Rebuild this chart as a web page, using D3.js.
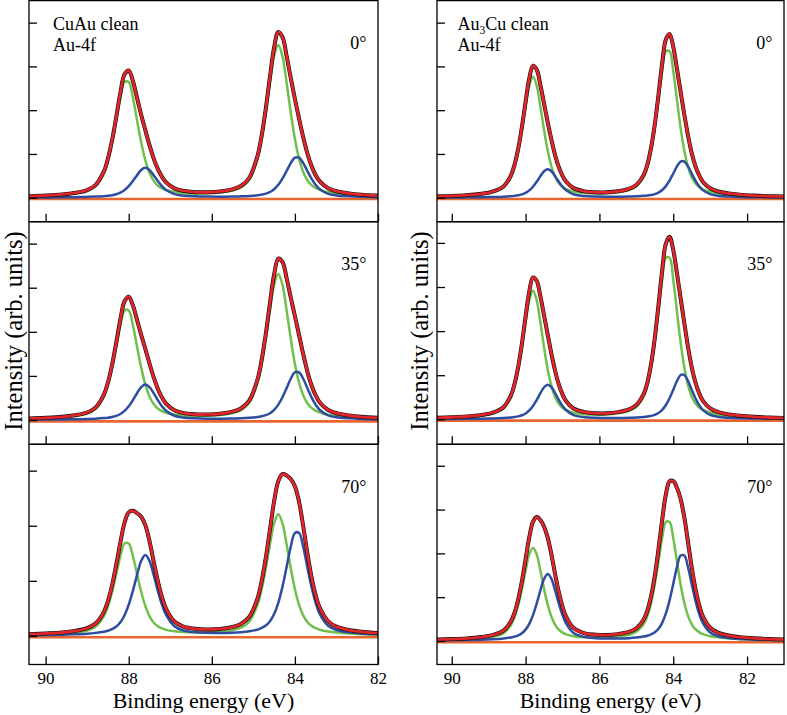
<!DOCTYPE html>
<html><head><meta charset="utf-8">
<script src="https://cdn.jsdelivr.net/npm/d3@7"></script>
<style>
body{margin:0;background:#fff}
svg{display:block}
text{font-family:"Times New Roman","Liberation Serif","DejaVu Serif",serif;fill:#000}
</style>
</head><body>
<svg id="chart" width="787" height="715" font-family="'Times New Roman','Liberation Serif',serif"></svg>
<script>
// ---------------- DATA (intensity in arb. units, 1 unit = one y tick) ----------------
const energyCuAu = [90.4,90.0,89.6,89.3,89.0,88.8,88.6,88.5,88.4,88.3,88.2,88.1,88.0,87.9,87.8,87.7,87.6,87.5,87.4,87.3,87.2,87.1,86.9,86.7,86.4,86.1,85.8,85.5,85.3,85.1,84.9,84.8,84.7,84.6,84.5,84.4,84.3,84.2,84.1,84.0,83.9,83.8,83.7,83.6,83.5,83.4,83.2,83.0,82.7,82.4,82.0];
const energyAu3Cu = [90.4,90.0,89.6,89.2,88.9,88.6,88.4,88.3,88.2,88.1,88.0,87.9,87.8,87.7,87.6,87.5,87.4,87.3,87.2,87.1,87.0,86.9,86.7,86.4,86.1,85.8,85.5,85.2,85.0,84.8,84.7,84.6,84.5,84.4,84.3,84.2,84.1,84.0,83.9,83.8,83.7,83.6,83.5,83.4,83.3,83.2,83.0,82.8,82.5,82.2,81.8,81.4,81.0];

// CuAu clean, Au-4f : green (bulk) and blue (second) components
const cuau0Green = [.031,.043,.065,.095,.156,.264,.560,.850,1.258,1.765,2.286,2.643,2.644,2.288,1.769,1.263,.857,.569,.385,.277,.214,.173,.132,.111,.096,.100,.119,.165,.235,.410,.899,1.347,1.948,2.632,3.238,3.491,3.236,2.630,1.944,1.342,.893,.589,.401,.290,.223,.181,.128,.096,.068,.050,.036];
const cuau0Blue = [.006,.008,.010,.014,.020,.026,.036,.045,.058,.080,.116,.176,.264,.381,.515,.634,.684,.634,.516,.383,.265,.178,.083,.049,.032,.026,.025,.028,.033,.041,.056,.071,.093,.131,.195,.295,.436,.611,.792,.915,.915,.791,.611,.435,.293,.193,.090,.053,.032,.021,.014];
const cuau35Green = [.029,.041,.061,.090,.147,.249,.527,.799,1.183,1.660,2.149,2.485,2.486,2.152,1.664,1.188,.806,.535,.363,.261,.201,.163,.124,.104,.091,.095,.112,.156,.223,.389,.852,1.277,1.847,2.497,3.070,3.310,3.069,2.494,1.844,1.272,.846,.559,.380,.274,.211,.171,.121,.091,.064,.047,.035];
const cuau35Blue = [.007,.009,.012,.017,.023,.031,.043,.052,.068,.094,.137,.207,.310,.449,.606,.746,.805,.746,.608,.450,.312,.209,.097,.057,.038,.031,.030,.033,.039,.049,.066,.084,.110,.154,.230,.349,.516,.723,.936,1.083,1.082,.936,.722,.514,.347,.228,.107,.063,.038,.025,.017];
const cuau70Green = [.020,.028,.041,.060,.099,.168,.355,.539,.798,1.120,1.450,1.677,1.677,1.451,1.122,.802,.544,.361,.244,.176,.136,.110,.084,.070,.061,.063,.075,.104,.149,.259,.568,.851,1.232,1.664,2.047,2.207,2.046,1.663,1.229,.848,.564,.373,.254,.183,.141,.114,.081,.061,.043,.032,.023];
const cuau70Blue = [.012,.017,.022,.030,.042,.056,.078,.095,.124,.171,.250,.377,.566,.819,1.106,1.361,1.468,1.362,1.108,.821,.569,.381,.177,.104,.068,.056,.053,.058,.068,.085,.115,.145,.190,.267,.398,.602,.891,1.250,1.618,1.870,1.870,1.617,1.248,.889,.599,.394,.185,.108,.065,.044,.029];

// Au3Cu clean, Au-4f
const au3cu0Green = [.027,.036,.050,.079,.121,.232,.470,.709,1.065,1.541,2.083,2.562,2.764,2.564,2.086,1.546,1.071,.717,.479,.332,.245,.195,.141,.107,.097,.100,.123,.176,.260,.479,.712,1.079,1.595,2.237,2.895,3.347,3.346,2.893,2.234,1.590,1.073,.706,.470,.331,.249,.194,.136,.101,.070,.052,.037,.028,.022];
const au3cu0Blue = [.005,.006,.009,.012,.017,.025,.035,.043,.055,.076,.111,.168,.252,.364,.493,.606,.653,.606,.493,.366,.253,.170,.079,.039,.028,.024,.024,.028,.033,.043,.051,.064,.084,.118,.176,.266,.394,.553,.715,.827,.827,.715,.552,.393,.265,.174,.082,.048,.029,.019,.013,.009,.007];
const au3cu35Green = [.028,.038,.053,.084,.128,.245,.496,.749,1.123,1.625,2.197,2.702,2.915,2.704,2.201,1.631,1.130,.757,.506,.351,.260,.206,.149,.115,.104,.108,.134,.192,.284,.523,.779,1.180,1.744,2.447,3.167,3.662,3.661,3.165,2.443,1.740,1.174,.772,.514,.362,.272,.212,.148,.111,.076,.057,.041,.030,.024];
const au3cu35Blue = [.006,.008,.010,.014,.020,.030,.042,.051,.066,.091,.133,.201,.302,.437,.591,.727,.784,.727,.592,.439,.304,.204,.094,.047,.033,.028,.029,.034,.041,.053,.062,.078,.102,.143,.214,.323,.478,.671,.868,1.004,1.004,.868,.670,.477,.322,.212,.099,.058,.035,.024,.016,.011,.008];
const au3cu70Green = [.021,.028,.039,.061,.094,.179,.362,.547,.821,1.188,1.606,1.976,2.131,1.977,1.609,1.192,.826,.554,.370,.257,.190,.151,.110,.084,.077,.080,.099,.142,.210,.388,.578,.875,1.294,1.815,2.350,2.716,2.716,2.348,1.813,1.291,.871,.572,.381,.268,.202,.157,.110,.082,.056,.042,.030,.022,.018];
const au3cu70Blue = [.012,.015,.020,.028,.039,.058,.081,.099,.129,.178,.260,.392,.589,.852,1.152,1.417,1.528,1.418,1.154,.855,.593,.397,.184,.091,.065,.055,.057,.065,.079,.102,.120,.151,.198,.278,.414,.628,.928,1.302,1.686,1.949,1.949,1.685,1.300,.926,.625,.411,.192,.113,.068,.046,.030,.022,.016];

const backgroundLevel = [-0.03, -0.03, -0.024, -0.03, -0.03, -0.03]; // flat background per panel
const angleLabels = ["0°", "35°", "70°"];
const xTickValues = [90, 88, 86, 84, 82];
const yTicksTall = [0, 1, 2, 3, 4];
const yTicksShort = [0, 1, 2, 3];

// ---------------- LAYOUT ----------------
const svg = d3.select("#chart");
const rowTop = [0.6, 221.7, 444.3];
const rowBot = [221.7, 444.3, 664.5];
const cols = [
  {x0: 29, x1: 378, domain: [90.4, 82.0], energy: energyCuAu, labelX: 53},
  {x0: 437, x1: 784, domain: [90.4, 81.0], energy: energyAu3Cu, labelX: 457.5}
];
const panels = [
  {col:0,row:0,green:cuau0Green,blue:cuau0Blue,yDom:[-0.547,4.503],ticks:yTicksTall},
  {col:0,row:1,green:cuau35Green,blue:cuau35Blue,yDom:[-0.551,4.497],ticks:yTicksTall},
  {col:0,row:2,green:cuau70Green,blue:cuau70Blue,yDom:[-0.518,3.478],ticks:yTicksShort},
  {col:1,row:0,green:au3cu0Green,blue:au3cu0Blue,yDom:[-0.547,4.503],ticks:yTicksTall},
  {col:1,row:1,green:au3cu35Green,blue:au3cu35Blue,yDom:[-0.567,4.481],ticks:yTicksTall},
  {col:1,row:2,green:au3cu70Green,blue:au3cu70Blue,yDom:[-0.537,4.490],ticks:yTicksTall}
];
const C = {red:"#e1252b", green:"#6fc04c", blue:"#2e4da1", orange:"#e8652f", black:"#111"};
const defs = svg.append("defs");

panels.forEach((p, i) => {
  const c = cols[p.col];
  const x = d3.scaleLinear().domain(c.domain).range([c.x0, c.x1]);
  const y = d3.scaleLinear().domain(p.yDom).range([rowBot[p.row], rowTop[p.row]]);
  const id = "clip" + i;
  defs.append("clipPath").attr("id", id).append("rect")
    .attr("x", c.x0).attr("y", rowTop[p.row]).attr("width", c.x1 - c.x0).attr("height", rowBot[p.row] - rowTop[p.row]);
  const g = svg.append("g").attr("clip-path", `url(#${id})`);
  const fit = p.green.map((v, k) => v + p.blue[k]);
  const line = arr => d3.line()
      .x((d, k) => x(c.energy[k]))
      .y(d => y(d))
      .curve(d3.curveCatmullRom.alpha(0.5))(arr);
  g.append("line").attr("x1", c.x0).attr("x2", c.x1)
    .attr("y1", y(backgroundLevel[i])).attr("y2", y(backgroundLevel[i]))
    .attr("stroke", C.orange).attr("stroke-width", 2.6);
  g.append("path").attr("d", line(p.green)).attr("fill", "none").attr("stroke", C.green).attr("stroke-width", 2.5);
  g.append("path").attr("d", line(p.blue)).attr("fill", "none").attr("stroke", C.blue).attr("stroke-width", 2.5);
  g.append("path").attr("d", line(fit)).attr("fill", "none").attr("stroke", C.black).attr("stroke-width", 4.0);
  g.append("path").attr("d", line(fit)).attr("fill", "none").attr("stroke", C.red).attr("stroke-width", 2.8);

  // frame
  svg.append("rect").attr("x", c.x0).attr("y", rowTop[p.row]).attr("width", c.x1 - c.x0)
    .attr("height", rowBot[p.row] - rowTop[p.row]).attr("fill", "none").attr("stroke", "#000").attr("stroke-width", 1.3);

  // y ticks (inward)
  const ya = svg.append("g").attr("transform", `translate(${c.x0},0)`)
    .call(d3.axisLeft(y).tickValues(p.ticks).tickSize(-8).tickFormat(""));
  ya.select(".domain").remove();
  ya.selectAll("line").attr("stroke-width", 1.3);

  // x ticks (inward, labels only on bottom row)
  const xa = svg.append("g").attr("transform", `translate(0,${rowBot[p.row]})`)
    .call(d3.axisBottom(x).tickValues(xTickValues).tickSize(-8).tickPadding(7.5)
      .tickFormat(p.row === 2 ? d3.format("d") : ""));
  xa.select(".domain").remove();
  xa.selectAll("line").attr("stroke-width", 1.3);
  xa.attr("font-family", null).attr("font-size", null);
  xa.selectAll("text").attr("font-size", 17).attr("fill", "#000");

  // angle label
  svg.append("text").attr("x", c.x1 - 11.5).attr("y", rowTop[p.row] + 48.3)
    .attr("text-anchor", "end").attr("font-size", 18).text(angleLabels[p.row]);
});

// sample labels
svg.append("text").attr("x", cols[0].labelX).attr("y", 29.5).attr("font-size", 18).text("CuAu clean");
svg.append("text").attr("x", cols[0].labelX).attr("y", 50.5).attr("font-size", 18).text("Au-4f");
const t2 = svg.append("text").attr("x", cols[1].labelX).attr("y", 29.5).attr("font-size", 18);
t2.append("tspan").text("Au");
t2.append("tspan").attr("font-size", 11.5).attr("dy", 4).text("3");
t2.append("tspan").attr("dy", -4).text("Cu clean");
svg.append("text").attr("x", cols[1].labelX).attr("y", 51).attr("font-size", 18).text("Au-4f");

// axis titles
cols.forEach(c => {
  svg.append("text").attr("x", (c.x0 + c.x1) / 2).attr("y", 707.5).attr("text-anchor", "middle")
    .attr("font-size", 22).text("Binding energy (eV)");
});
[22, 428].forEach(bx => {
  svg.append("text").attr("transform", `translate(${bx},331) rotate(-90)`).attr("text-anchor", "middle")
    .attr("font-size", 24.5).text("Intensity (arb. units)");
});
</script>
</body></html>
